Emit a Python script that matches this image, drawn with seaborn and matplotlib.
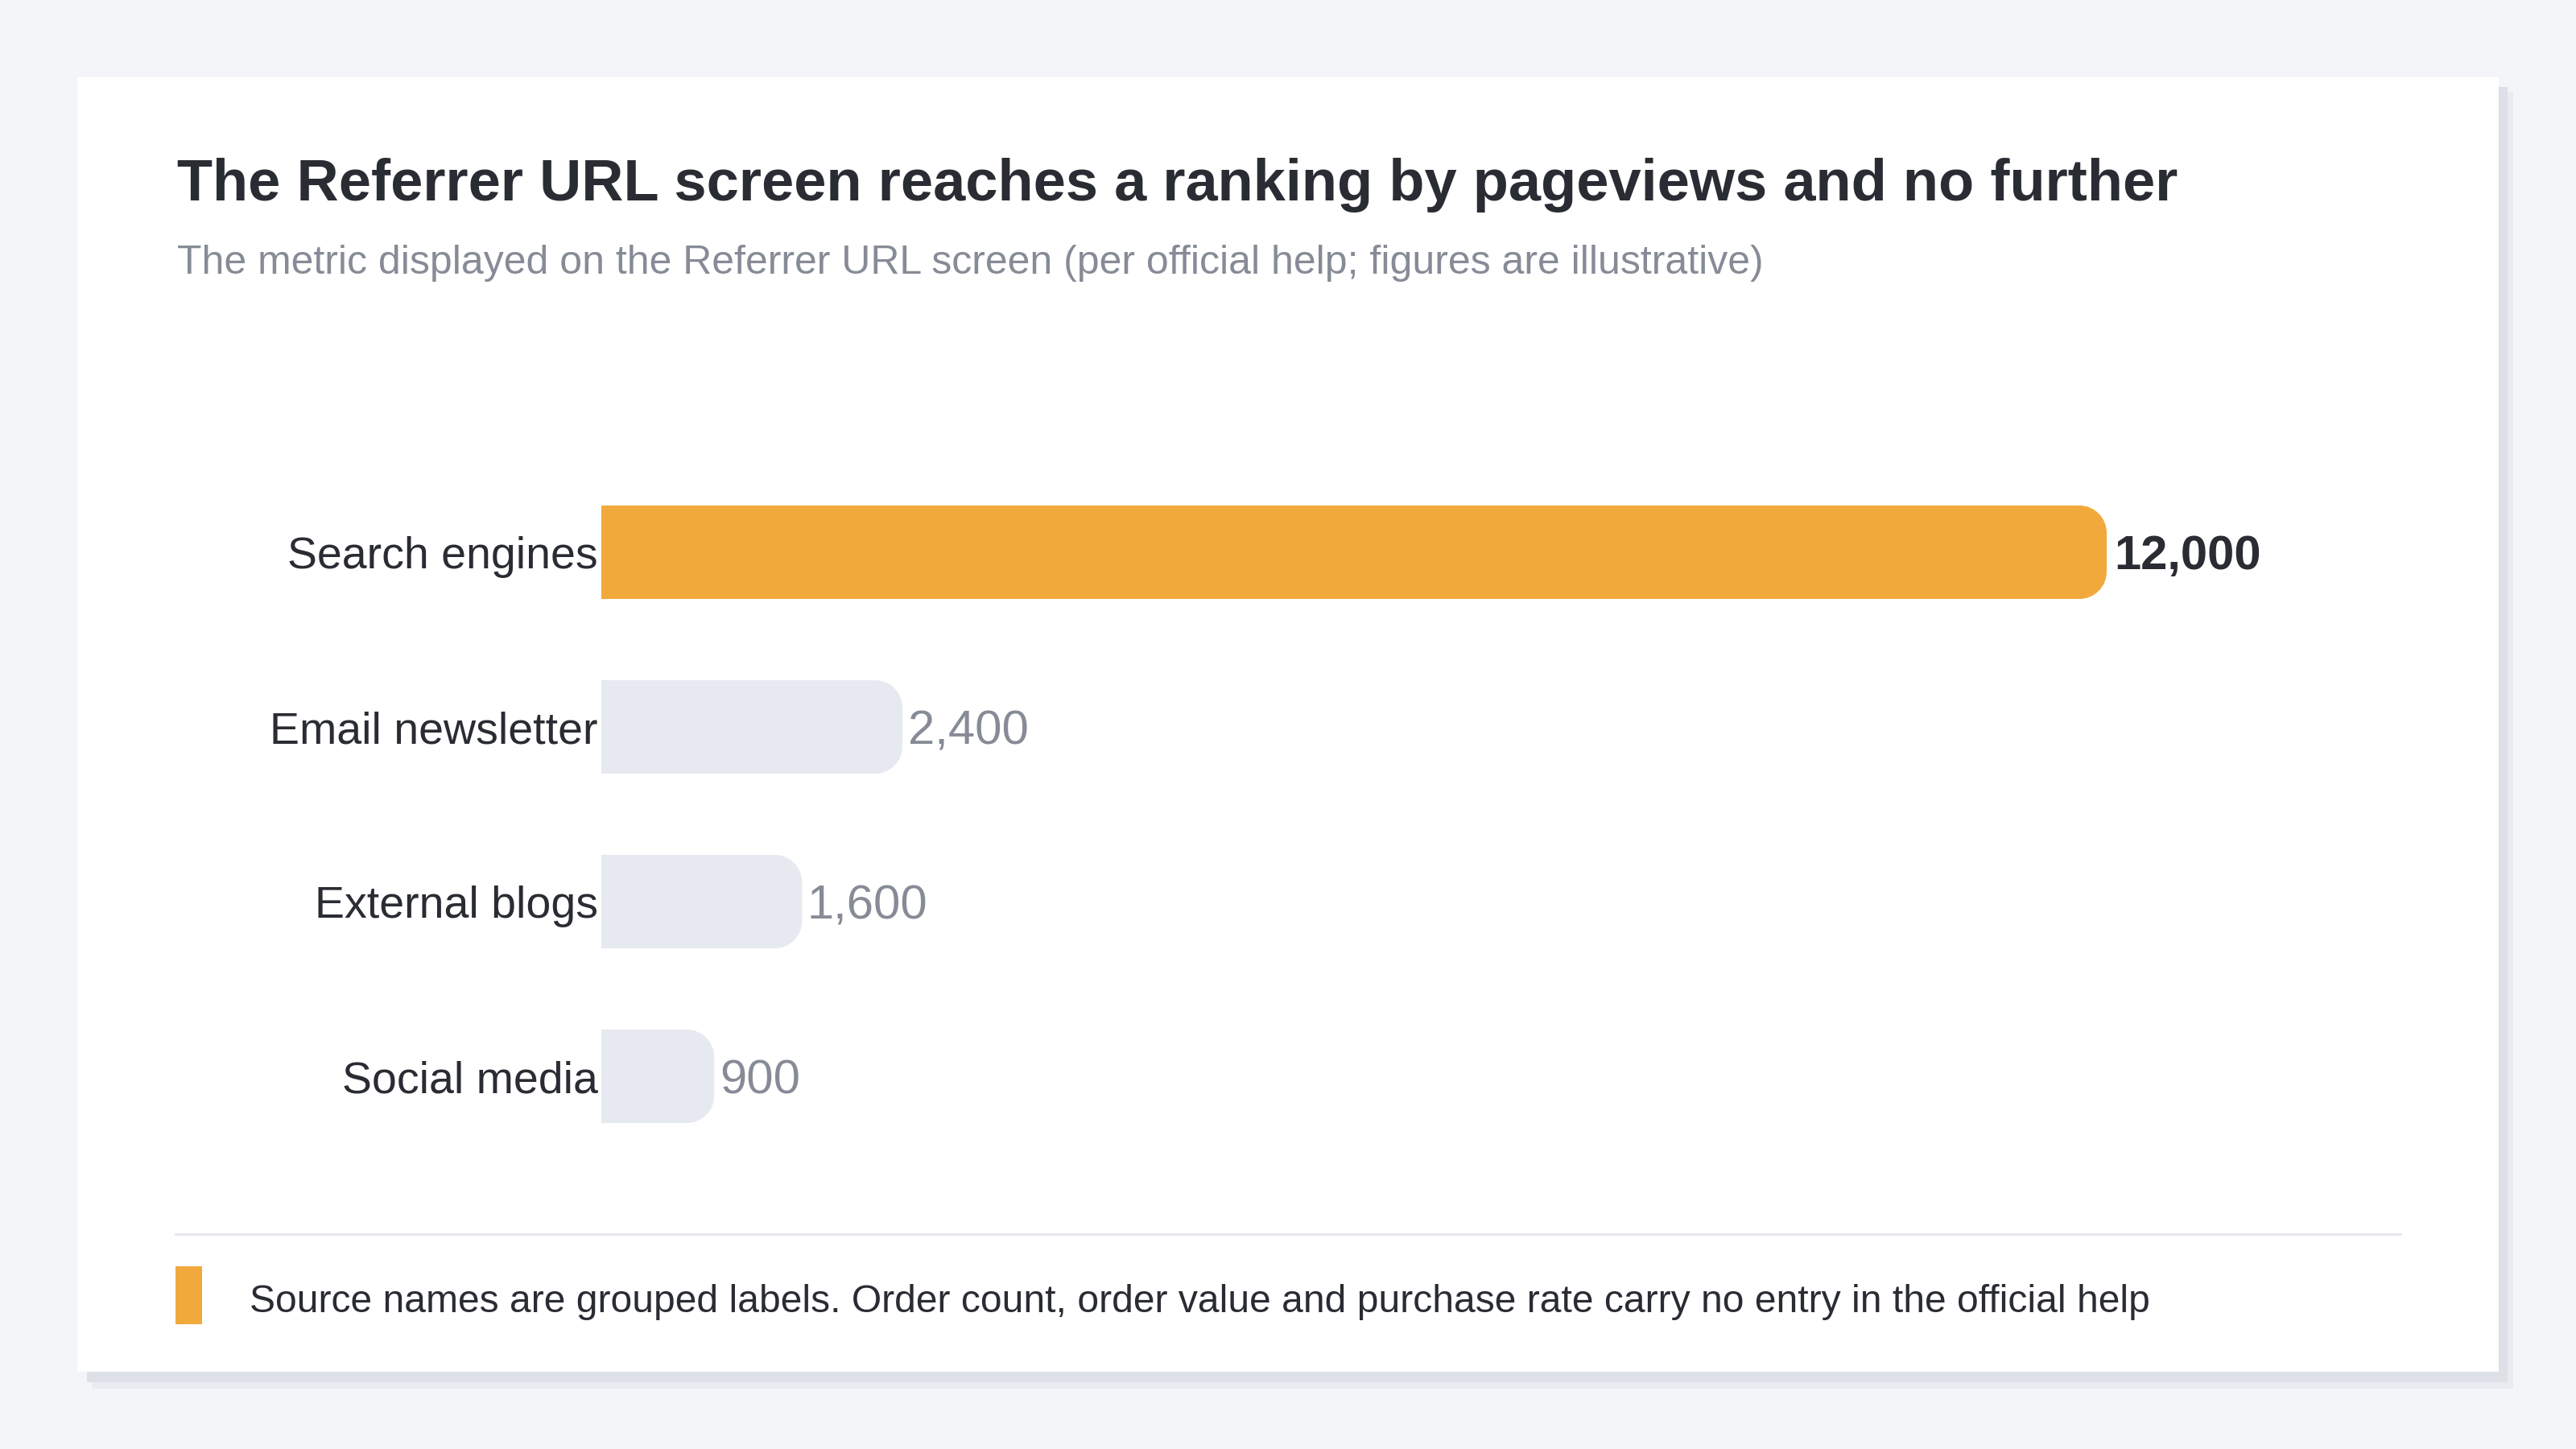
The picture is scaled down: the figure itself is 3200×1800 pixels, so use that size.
import matplotlib
matplotlib.use("Agg")
import matplotlib.pyplot as plt
import seaborn as sns
from matplotlib.patches import Rectangle, PathPatch
from matplotlib.path import Path

# data
sources = ["Search engines", "Email newsletter", "External blogs", "Social media"]
pageviews = [12000, 2400, 1600, 900]
value_labels = ["12,000", "2,400", "1,600", "900"]

title = "The Referrer URL screen reaches a ranking by pageviews and no further"
subtitle = "The metric displayed on the Referrer URL screen (per official help; figures are illustrative)"
footnote = ("Source names are grouped labels. Order count, order value and purchase rate "
            "carry no entry in the official help")

ORANGE = "#F1A93C"
GRAY_BAR = "#E7E9F1"
DARK = "#2A2C33"
MUTED = "#868B96"
BG = "#F4F5F8"

sns.set_theme(style="white")
plt.rcParams["font.family"] = ["Liberation Sans", "DejaVu Sans"]

W, H = 3200, 1800
fig = plt.figure(figsize=(16, 9), dpi=200, facecolor=BG)


def px_rect(x0, y0, x1, y1, color, z):
    # rectangle given in pixel coords from top-left
    fig.patches.append(Rectangle((x0 / W, 1 - y1 / H), (x1 - x0) / W, (y1 - y0) / H,
                                 transform=fig.transFigure, facecolor=color,
                                 edgecolor="none", zorder=z))


# card with soft shadow
px_rect(114, 114, 3122, 1725, "#E9EBF0", 0)
px_rect(108, 108, 3115, 1717, "#DDE0E7", 0.5)
px_rect(96, 96, 3104, 1704, "white", 1)

fig.text(220 / W, 1 - 249 / H, title, fontsize=26, fontweight="bold",
         color=DARK, va="baseline", ha="left", zorder=3)
fig.text(220 / W, 1 - 340 / H, subtitle, fontsize=18, color=MUTED,
         va="baseline", ha="left", zorder=3)

xmax = 13000
ax_left, ax_w = 747 / W, (1870 / 12000 * xmax) / W
ax_top, ax_h = 577.5, 868
ax = fig.add_axes([ax_left, 1 - (ax_top + ax_h) / H, ax_w, ax_h / H])
ax.set_facecolor("none")
ax.set_zorder(3)

colors = [ORANGE] + [GRAY_BAR] * (len(sources) - 1)
sns.barplot(x=pageviews, y=sources, hue=sources, palette=colors, legend=False,
            orient="h", width=0.535, saturation=1, ax=ax)

ax.set_xlim(0, xmax)
ax.set_ylim(len(sources) - 0.5, -0.5)
ax.set_xticks([])
ax.set_xlabel("")
ax.set_ylabel("")
for s in ax.spines.values():
    s.set_visible(False)
ax.tick_params(axis="y", length=0, pad=1.5, labelsize=20, labelcolor=DARK)

# round the right ends of the bars
ppx = ax_w * W / xmax
ppy = ax_h / len(sources)
r = 34
rx, ry = r / ppx, r / ppy
k = 0.5523
for p in list(ax.patches):
    x0, y0 = p.get_x(), p.get_y()
    x1, y1 = x0 + p.get_width(), y0 + p.get_height()
    verts = [(x0, y0), (x1 - rx, y0),
             (x1 - rx + k * rx, y0), (x1, y0 + ry - k * ry), (x1, y0 + ry),
             (x1, y1 - ry),
             (x1, y1 - ry + k * ry), (x1 - rx + k * rx, y1), (x1 - rx, y1),
             (x0, y1), (x0, y0)]
    codes = [Path.MOVETO, Path.LINETO,
             Path.CURVE4, Path.CURVE4, Path.CURVE4,
             Path.LINETO,
             Path.CURVE4, Path.CURVE4, Path.CURVE4,
             Path.LINETO, Path.CLOSEPOLY]
    ax.add_patch(PathPatch(Path(verts, codes), facecolor=p.get_facecolor(),
                           edgecolor="none", zorder=2))
    p.set_visible(False)

for i, (v, lab) in enumerate(zip(pageviews, value_labels)):
    ax.annotate(lab, (v, i), xytext=(3.2 if i == 0 else 2.4, 0),
                textcoords="offset points",
                va="center_baseline", ha="left", fontsize=21.5,
                fontweight="bold" if i == 0 else "normal",
                color=DARK if i == 0 else MUTED)

# footer
fig.add_artist(plt.Line2D([218 / W, 2982 / W], [1 - 1533 / H] * 2,
                          transform=fig.transFigure, color="#E6E9EE", lw=1.2,
                          zorder=3))
px_rect(218, 1573, 251, 1645, ORANGE, 3)
fig.text(310 / W, 1 - 1630 / H, footnote, fontsize=17.3, color=DARK,
         va="baseline", ha="left", zorder=3)

fig.savefig("out.png", dpi=200, facecolor=BG)
